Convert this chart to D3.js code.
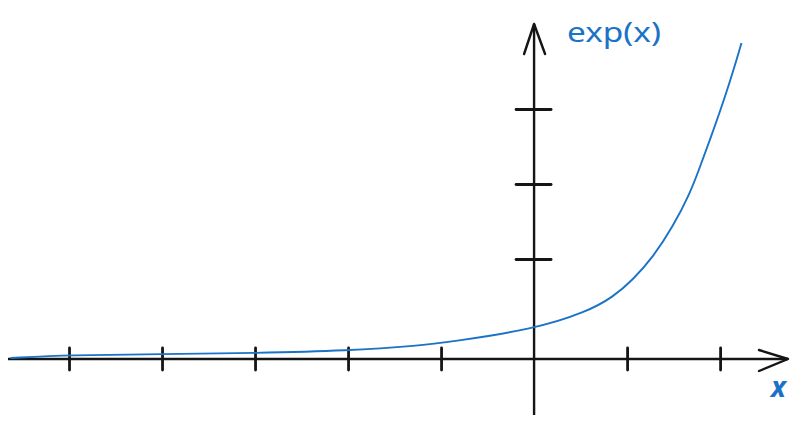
<!DOCTYPE html>
<html lang="en">
<head>
<meta charset="UTF-8">
<title>exp(x)</title>
<script src="https://cdn.jsdelivr.net/npm/d3@7"></script>
<style>
body { margin: 0; background: #fff; }
svg { display: block; }
</style>
</head>
<body>
<svg id="chart" width="800" height="425"></svg>
<script>
// values
const xTicks = [-5, -4, -3, -2, -1, 1, 2];
const yTicks = [4, 7, 10];
const curveX = [-5.63, -5, -4, -3, -2, -1.23, -0.9, 0, 0.57, 0.85, 1.06, 1.28, 1.49, 1.68, 1.78, 1.88, 2.08, 2.23];
const curveY = [0.04, 0.16, 0.19, 0.24, 0.33, 0.53, 0.69, 1.19, 1.89, 2.48, 3.16, 4.08, 5.28, 6.65, 7.65, 8.65, 10.76, 12.64];

const blue = "#1c72c6";
const ink = "#151515";
const svg = d3.select("#chart");

// x: 0 sits on the vertical axis
const x = d3.scaleLinear().domain([-5.656, 2.73]).range([8, 788]);
const y = d3.scaleLinear().domain([-2.24, 13.4]).range([415, 24]);

const g = svg.append("g");
const x0 = x(0), y0 = y(0);

// axis lines with open arrow heads
g.append("line").attr("x1", x.range()[0]).attr("x2", x.range()[1])
  .attr("y1", y0).attr("y2", y0)
  .attr("stroke", ink).attr("stroke-width", 2.4);
g.append("path")
  .attr("d", `M${x.range()[1] - 29},${y0 - 9} L${x.range()[1]},${y0} L${x.range()[1] - 29},${y0 + 12}`)
  .attr("fill", "none").attr("stroke", ink).attr("stroke-width", 2.4)
  .attr("stroke-linecap", "round").attr("stroke-linejoin", "round");

g.append("line").attr("x1", x0).attr("x2", x0)
  .attr("y1", y.range()[0]).attr("y2", y.range()[1])
  .attr("stroke", ink).attr("stroke-width", 2.4);
g.append("path")
  .attr("d", `M${x0 - 10},${y.range()[1] + 30} L${x0},${y.range()[1]} L${x0 + 11},${y.range()[1] + 30}`)
  .attr("fill", "none").attr("stroke", ink).attr("stroke-width", 2.4)
  .attr("stroke-linecap", "round").attr("stroke-linejoin", "round");

// tick marks crossing the axes, no labels
const xAxis = d3.axisBottom(x).tickValues(xTicks).tickSize(22).tickFormat("");
g.append("g").attr("transform", `translate(0,${y0 - 11})`).call(xAxis)
  .call(s => s.select(".domain").remove())
  .call(s => s.selectAll("line").attr("stroke", ink).attr("stroke-width", 2.8).attr("stroke-linecap", "round"));

const yAxis = d3.axisLeft(y).tickValues(yTicks).tickSize(35).tickFormat("");
g.append("g").attr("transform", `translate(${x0 + 17},0)`).call(yAxis)
  .call(s => s.select(".domain").remove())
  .call(s => s.selectAll("line").attr("stroke", ink).attr("stroke-width", 2.8).attr("stroke-linecap", "round"));

// the curve
const pts = curveX.map((v, i) => [v, curveY[i]]);
const line = d3.line().x(d => x(d[0])).y(d => y(d[1])).curve(d3.curveBasis);
g.append("path").datum(pts).attr("d", line)
  .attr("fill", "none").attr("stroke", blue).attr("stroke-width", 1.9);

// labels
svg.append("text").attr("x", 567).attr("y", 42)
  .attr("font-family", "'Noto Sans', sans-serif").attr("font-size", 28)
  .attr("textLength", 94).attr("lengthAdjust", "spacingAndGlyphs")
  .attr("fill", blue).text("exp(x)");

svg.append("text").attr("x", 771).attr("y", 397)
  .attr("font-family", "'Noto Sans', sans-serif").attr("font-size", 28)
  .attr("font-style", "italic").attr("font-weight", "bold")
  .attr("fill", blue).text("x");
</script>
</body>
</html>
